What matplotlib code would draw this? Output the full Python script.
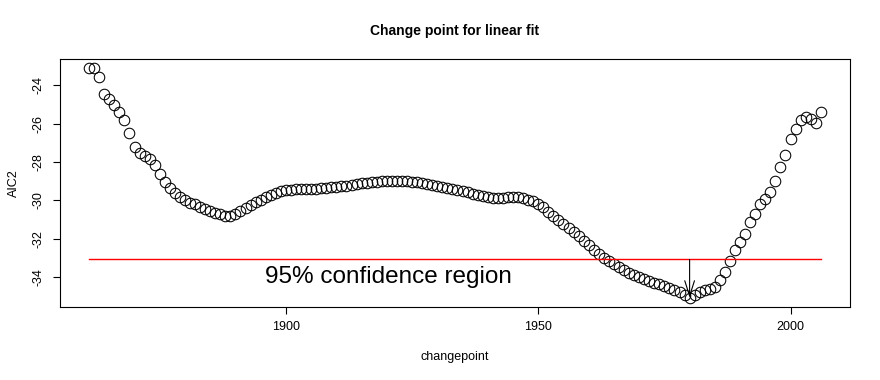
import numpy as np
import matplotlib
matplotlib.use("Agg")
import matplotlib.pyplot as plt

plt.rcParams['font.family'] = ['Liberation Sans', 'DejaVu Sans']

# change point year and AIC2 value for each candidate
years = np.arange(1861, 2007)
aic2 = [
    -23.10, -23.10, -23.54, -24.45, -24.71, -25.02, -25.39, -25.80, -26.48, -27.21,
    -27.52, -27.67, -27.83, -28.14, -28.61, -29.02, -29.34, -29.59, -29.80, -29.98,
    -30.11, -30.21, -30.32, -30.43, -30.53, -30.63, -30.73, -30.82, -30.79, -30.69,
    -30.56, -30.40, -30.24, -30.09, -29.96, -29.83, -29.70, -29.59, -29.52, -29.47,
    -29.44, -29.41, -29.41, -29.41, -29.41, -29.39, -29.36, -29.34, -29.31, -29.28,
    -29.26, -29.23, -29.21, -29.15, -29.10, -29.08, -29.05, -29.02, -29.00, -28.97,
    -28.97, -28.97, -28.97, -29.00, -29.02, -29.05, -29.10, -29.15, -29.21, -29.26,
    -29.31, -29.36, -29.41, -29.47, -29.52, -29.57, -29.65, -29.70, -29.78, -29.83,
    -29.88, -29.88, -29.85, -29.83, -29.83, -29.83, -29.88, -29.96, -30.04, -30.17,
    -30.35, -30.58, -30.79, -31.00, -31.21, -31.44, -31.65, -31.83, -32.09, -32.35,
    -32.61, -32.79, -32.98, -33.16, -33.34, -33.49, -33.65, -33.78, -33.91, -34.01,
    -34.11, -34.22, -34.30, -34.37, -34.45, -34.56, -34.66, -34.79, -34.92, -35.08,
    -34.95, -34.77, -34.69, -34.60, -34.51, -34.17, -33.74, -33.18, -32.61, -32.18,
    -31.74, -31.14, -30.70, -30.18, -29.92, -29.58, -28.97, -28.28, -27.64, -26.81,
    -26.29, -25.80, -25.63, -25.74, -25.97, -25.39,
]
assert len(aic2) == len(years)

xticks = [1900, 1950, 2000]
yticks = [-34, -32, -30, -28, -26, -24]

aic2 = np.array(aic2)
best = int(np.argmin(aic2))
cutoff = aic2[best] + 2

fig = plt.figure(figsize=(8.8, 3.8), dpi=100)
ax = fig.add_axes([0.068, 0.192, 0.898, 0.653])

ax.plot(years, aic2, 'o', mfc='none', mec='black', ms=7.6, mew=0.75)
ax.plot([years[0], years[-1]], [cutoff, cutoff], color='#ff0000', lw=1.0)
ax.annotate('', xy=(years[best], aic2[best]), xytext=(years[best], cutoff),
            arrowprops=dict(arrowstyle='->,head_length=1.1,head_width=0.35',
                            color='black', lw=0.8, shrinkA=0, shrinkB=0))
ax.text(1920.4, -34.0, '95% confidence region', fontsize=17.5,
        ha='center', va='center')

span_x = years[-1] - years[0]
ax.set_xlim(years[0] - 0.04 * span_x, years[-1] + 0.04 * span_x)
span_y = aic2.max() - aic2.min()
ax.set_ylim(aic2.min() - 0.04 * span_y, aic2.max() + 0.04 * span_y)

ax.set_xticks(xticks)
ax.set_yticks(yticks)
ax.set_yticklabels([str(t) for t in yticks], rotation=90, va='center')
ax.tick_params(direction='out', length=5, width=0.8, labelsize=9, pad=5)
ax.tick_params(axis='y', pad=6)
for s in ax.spines.values():
    s.set_linewidth(0.8)

ax.set_title('Change point for linear fit', fontsize=10, fontweight='bold', pad=17)
ax.set_xlabel('changepoint', fontsize=9, labelpad=13)
ax.set_ylabel('AIC2', fontsize=9, labelpad=9)

fig.savefig('out.png', dpi=100)
